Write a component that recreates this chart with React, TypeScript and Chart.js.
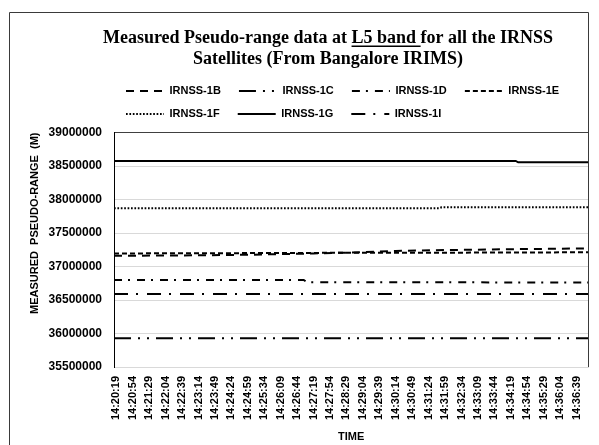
import React, { useEffect, useRef } from "react";
import { Chart, registerables } from "chart.js";

Chart.register(...registerables);

// ---------- DATA ----------
const timeLabels = [
  "14:20:19", "14:20:54", "14:21:29", "14:22:04", "14:22:39", "14:23:14",
  "14:23:49", "14:24:24", "14:24:59", "14:25:34", "14:26:09", "14:26:44",
  "14:27:19", "14:27:54", "14:28:29", "14:29:04", "14:29:39", "14:30:14",
  "14:30:49", "14:31:24", "14:31:59", "14:32:34", "14:33:09", "14:33:44",
  "14:34:19", "14:34:54", "14:35:29", "14:36:04", "14:36:39",
];

const seriesNames = ["IRNSS-1B", "IRNSS-1C", "IRNSS-1D", "IRNSS-1E", "IRNSS-1F", "IRNSS-1G", "IRNSS-1I"];

// [time position in label-index units, pseudo-range in metres]
const irnss1B: [number, number][] = [
  [-0.14, 37160000], [4, 37165000], [8, 37175000], [12, 37195000], [14, 37207000],
  [17, 37232000], [20, 37245000], [24, 37258000], [28.72, 37270000],
];
const irnss1C: [number, number][] = [[-0.14, 35930000], [28.72, 35930000]];
const irnss1D: [number, number][] = [
  [-0.14, 36800000], [11.4, 36800000], [11.6, 36765000], [28.72, 36762000],
];
const irnss1E: [number, number][] = [
  [-0.14, 37195000], [4, 37197000], [8, 37200000], [12, 37203000], [14, 37205000],
  [17, 37204000], [20, 37206000], [24, 37209000], [28.72, 37212000],
];
const irnss1F: [number, number][] = [
  [-0.14, 37870000], [19.65, 37870000], [19.8, 37885000], [28.72, 37885000],
];
const irnss1G: [number, number][] = [
  [-0.14, 38575000], [24.3, 38575000], [24.45, 38555000], [28.72, 38555000],
];
const irnss1I: [number, number][] = [[-0.14, 36590000], [28.72, 36590000]];

const yMin = 35500000;
const yMax = 39000000;
const yStep = 500000;

const titleLine1 = ["Measured Pseudo-range data at ", "L5 band ", "for all the IRNSS"];
const titleLine2 = "Satellites (From Bangalore IRIMS)";
const yTitle = "MEASURED  PSEUDO-RANGE  (M)";
const xTitle = "TIME";

// ---------- STYLES ----------
const seriesData = [irnss1B, irnss1C, irnss1D, irnss1E, irnss1F, irnss1G, irnss1I];
const dashes: number[][] = [
  [8, 6],
  [17, 7, 2, 7, 2, 7],
  [8, 6, 2, 7],
  [5, 3],
  [1.7, 1.7],
  [],
  [14, 8, 2, 9],
];

const FONT = '"Liberation Sans", Arial, sans-serif';

const titlePlugin = {
  id: "customTitle",
  afterDraw(chart: any) {
    const ctx = chart.ctx as CanvasRenderingContext2D;
    ctx.save();
    ctx.font = 'bold 18px "Liberation Serif", serif';
    ctx.fillStyle = "#000";
    ctx.textBaseline = "middle";
    ctx.textAlign = "left";
    const cx = 328;
    const w = titleLine1.map((t) => ctx.measureText(t).width);
    const total = w[0] + w[1] + w[2];
    const x = cx - total / 2;
    const y1 = 38;
    ctx.fillText(titleLine1[0], x, y1);
    ctx.fillText(titleLine1[1], x + w[0], y1);
    ctx.fillText(titleLine1[2], x + w[0] + w[1], y1);
    ctx.fillRect(x + w[0], y1 + 7.5, w[1], 1.5);
    ctx.textAlign = "center";
    ctx.fillText(titleLine2, cx, 59);
    ctx.restore();
  },
};

const framePlugin = {
  id: "frame",
  beforeLayout(chart: any) {
    const lg = chart.legend;
    if (lg && !lg.__patched) {
      const orig = lg.fit.bind(lg);
      lg.fit = () => {
        orig();
        lg.height += 3;
      };
      lg.__patched = true;
    }
  },
  afterDraw(chart: any) {
    const ctx = chart.ctx as CanvasRenderingContext2D;
    const { right, bottom } = chart.chartArea;
    ctx.save();
    ctx.strokeStyle = "#3a3a3a";
    ctx.lineWidth = 1;
    ctx.beginPath();
    ctx.moveTo(9.5, chart.height);
    ctx.lineTo(9.5, 12.5);
    ctx.lineTo(Math.round(right) + 0.5, 12.5);
    ctx.lineTo(Math.round(right) + 0.5, bottom);
    ctx.stroke();
    ctx.restore();
  },
};

export default function App() {
  const ref = useRef<HTMLCanvasElement>(null);

  useEffect(() => {
    if (!ref.current) return;
    const datasets = seriesNames.map((name, i) => ({
      label: name,
      data: seriesData[i].map(([x, y]) => ({ x, y })),
      borderColor: "#000",
      backgroundColor: "#000",
      borderWidth: 2,
      borderDash: dashes[i],
      borderCapStyle: "butt" as const,
      pointRadius: 0,
      pointHoverRadius: 0,
      pointStyle: "line" as const,
      tension: 0,
      fill: false,
    }));

    const chart = new Chart(ref.current, {
      type: "line",
      data: { datasets },
      plugins: [titlePlugin, framePlugin],
      options: {
        animation: false,
        responsive: false,
        maintainAspectRatio: false,
        layout: { padding: { left: 14, right: 7, top: 73.5, bottom: 1 } },
        plugins: {
          title: { display: false },
          tooltip: { enabled: false },
          legend: {
            display: true,
            position: "top",
            align: "start",
            fullSize: false,
            labels: {
              usePointStyle: true,
              pointStyle: "line",
              pointStyleWidth: 38,
              padding: 12,
              color: "#000",
              font: { family: FONT, size: 11, weight: "bold" },
              generateLabels: (c: any) =>
                (Chart.defaults.plugins.legend.labels.generateLabels as any)(c).map((l: any) => ({
                  ...l,
                  text: l.text + "  ",
                  lineDash: dashes[l.datasetIndex],
                  lineDashOffset: 0,
                  lineWidth: 2,
                  lineCap: "butt",
                  strokeStyle: "#000",
                  fillStyle: "#000",
                })),
            },
          },
        },
        scales: {
          x: {
            type: "linear",
            min: -0.14,
            max: 28.72,
            afterBuildTicks: (scale: any) => {
              scale.ticks = timeLabels.map((_, i) => ({ value: i }));
            },
            afterFit: (scale: any) => {
              scale.height = 77;
            },
            grid: { display: false, drawTicks: false },
            border: { display: true, color: "#d9d9d9", width: 1 },
            ticks: {
              autoSkip: false,
              minRotation: 90,
              maxRotation: 90,
              padding: 9,
              color: "#000",
              font: { family: FONT, size: 11, weight: "bold" },
              callback: (v: any) => timeLabels[Math.round(Number(v))] ?? "",
            },
            title: {
              display: true,
              text: xTitle,
              color: "#000",
              font: { family: FONT, size: 11, weight: "bold" },
              padding: { top: 0, bottom: 0 },
            },
          },
          y: {
            type: "linear",
            min: yMin,
            max: yMax,
            afterFit: (scale: any) => {
              scale.width = 100;
            },
            grid: {
              drawTicks: false,
              color: (c: any) => (c.tick && c.tick.value === yMax ? "#404040" : "#d9d9d9"),
              lineWidth: 1,
            },
            border: { display: true, color: "#000", width: 1 },
            ticks: {
              stepSize: yStep,
              padding: 12,
              color: "#000",
              font: { family: FONT, size: 12, weight: "bold" },
              callback: (v: any) => String(v),
            },
            title: {
              display: true,
              text: yTitle,
              align: "end",
              color: "#000",
              font: { family: FONT, size: 11, weight: "bold" },
              padding: { top: 14, bottom: 0 },
            },
          },
        },
      } as any,
    });
    return () => chart.destroy();
  }, []);

  return (
    <canvas
      ref={ref}
      width={599}
      height={445}
      style={{ position: "absolute", left: 0, top: 0, display: "block" }}
    />
  );
}
